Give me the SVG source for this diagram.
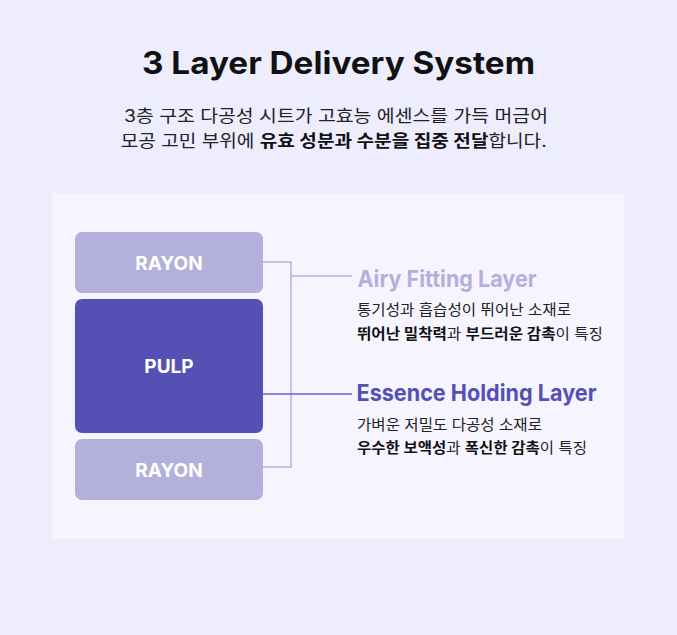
<svg xmlns="http://www.w3.org/2000/svg" width="677" height="635" viewBox="0 0 677 635">
<style>
  text { font-family: Inter, "Noto Sans CJK KR", sans-serif; }
  .title { font-size: 31px; font-weight: 700; fill: #111111; }
  .sub { font-size: 17px; font-weight: 400; fill: #222222; }
  .b { font-weight: 700; fill: #111111; }
  .lbl { font-size: 19px; font-weight: 700; fill: #FFFFFF; }
  .head { font-size: 23px; font-weight: 700; }
  .body { font-size: 14.5px; font-weight: 400; fill: #222222; }
  .light { fill: #B3B0DB; }
  .dark { fill: #5550B4; }
  .conn-light { stroke: #B3B0DB; stroke-width: 1.5; fill: none; }
  .conn-dark { stroke: #6461C4; stroke-width: 1.5; fill: none; }
</style>
<rect x="0" y="0" width="677" height="635" fill="#EEEDFE"/>
<g id="title">
  <text class="title" x="338.5" y="73.5" text-anchor="middle" textLength="393" lengthAdjust="spacingAndGlyphs">3 Layer Delivery System</text>
  <text class="sub" x="336" y="122" text-anchor="middle" textLength="424" lengthAdjust="spacingAndGlyphs">3층 구조 다공성 시트가 고효능 에센스를 가득 머금어</text>
  <text class="sub" x="333.7" y="147" text-anchor="middle" textLength="426" lengthAdjust="spacingAndGlyphs">모공 고민 부위에 <tspan class="b">유효 성분과 수분을 집중 전달</tspan>합니다.</text>
</g>
<rect id="panel" x="52" y="193" width="572" height="346" fill="#F6F5FF"/>
<g id="connectors">
  <path class="conn-light" d="M263 262 H291 V467 H263"/>
  <path class="conn-light" d="M291 276 H352"/>
  <path class="conn-dark" d="M263 394 H352"/>
</g>
<g id="rayon-top">
  <rect x="75" y="232" width="188" height="61" rx="7" fill="#B3B0DB"/>
  <text class="lbl" x="169" y="270" text-anchor="middle">RAYON</text>
</g>
<g id="pulp">
  <rect x="75" y="299" width="188" height="134" rx="7" fill="#5550B4"/>
  <text class="lbl" x="169" y="373" text-anchor="middle">PULP</text>
</g>
<g id="rayon-bottom">
  <rect x="75" y="439" width="188" height="61" rx="7" fill="#B3B0DB"/>
  <text class="lbl" x="169" y="477" text-anchor="middle">RAYON</text>
</g>
<g id="airy">
  <text class="head light" x="357.5" y="286.5" textLength="179" lengthAdjust="spacingAndGlyphs">Airy Fitting Layer</text>
  <text class="body" x="357" y="315" textLength="214" lengthAdjust="spacingAndGlyphs">통기성과 흡습성이 뛰어난 소재로</text>
  <text class="body" x="357" y="339" textLength="246" lengthAdjust="spacingAndGlyphs"><tspan class="b">뛰어난 밀착력</tspan>과 <tspan class="b">부드러운 감촉</tspan>이 특징</text>
</g>
<g id="essence">
  <text class="head dark" x="356.5" y="401" textLength="240" lengthAdjust="spacingAndGlyphs">Essence Holding Layer</text>
  <text class="body" x="357" y="430" textLength="185" lengthAdjust="spacingAndGlyphs">가벼운 저밀도 다공성 소재로</text>
  <text class="body" x="357" y="453" textLength="230" lengthAdjust="spacingAndGlyphs"><tspan class="b">우수한 보액성</tspan>과 <tspan class="b">폭신한 감촉</tspan>이 특징</text>
</g>
</svg>
